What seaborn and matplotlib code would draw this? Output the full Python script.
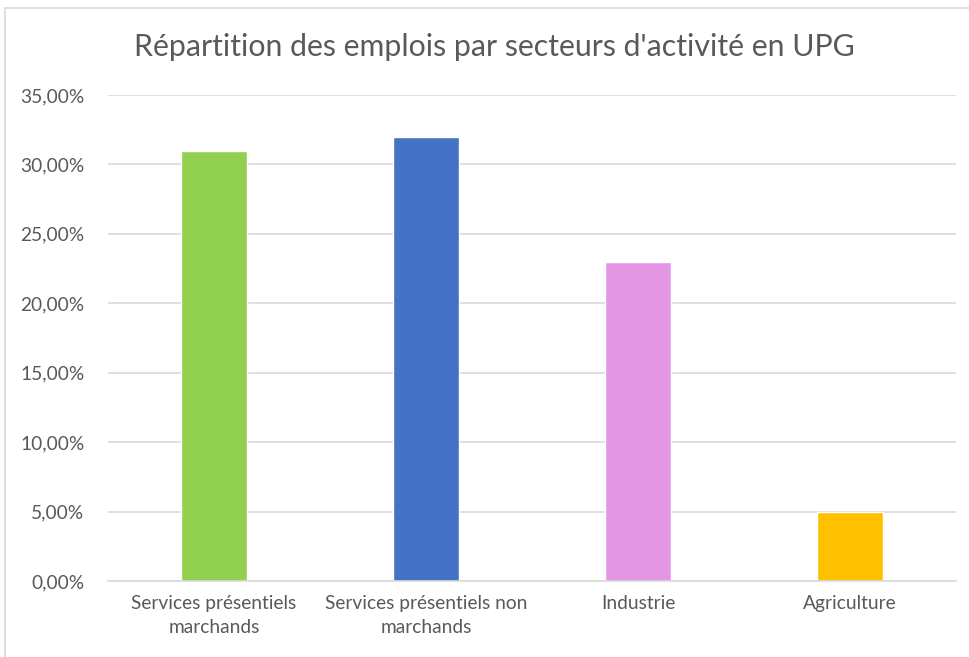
import numpy as np
import pandas as pd
import seaborn as sns
import matplotlib.pyplot as plt
from matplotlib.patches import Rectangle
from matplotlib.ticker import FuncFormatter

# données
secteurs = ["Services présentiels\nmarchands", "Services présentiels non\nmarchands", "Industrie", "Agriculture"]
parts = [0.31, 0.32, 0.23, 0.05]
couleurs = ["#92D050", "#4472C4", "#E396E3", "#FFC000"]

df = pd.DataFrame({"Secteur": secteurs, "Part": parts})

sns.set_style("white")
plt.rcParams['font.family'] = ['Lato', 'DejaVu Sans']

fig = plt.figure(figsize=(9.69, 6.57), dpi=100)
ax = fig.add_axes([0.1115, 0.1157, 0.875, 0.7397])

sns.barplot(data=df, x="Secteur", y="Part", hue="Secteur", palette=couleurs,
            width=0.31, legend=False, ax=ax, saturation=1)

ax.set_ylim(0, 0.35)
ax.set_yticks(np.arange(0, 0.351, 0.05))
ax.yaxis.set_major_formatter(FuncFormatter(lambda v, p: f"{v*100:.2f}%".replace(".", ",")))
ax.grid(axis="y", color="#D9D9D9", linewidth=1.2)
ax.set_axisbelow(True)
for s in ["top", "right", "left"]:
    ax.spines[s].set_visible(False)
ax.spines["bottom"].set_color("#D9D9D9")
ax.spines["bottom"].set_linewidth(1.2)
ax.set_xlabel("")
ax.set_ylabel("")
ax.tick_params(axis="both", colors="#595959", labelsize=13.8, length=0)
ax.tick_params(axis="y", pad=17)
ax.tick_params(axis="x", pad=10)
for lab in ax.get_xticklabels():
    lab.set_linespacing(1.5)

fig.text(0.51, 0.928, "Répartition des emplois par secteurs d'activité en UPG",
         ha="center", va="center", fontsize=21.8, color="#595959")

# cadre du graphique
fig.patches.append(Rectangle((5/969, -0.1), 1.2, (657 - 8) / 657 + 0.1,
                             transform=fig.transFigure, fill=False,
                             edgecolor="#D9D9D9", linewidth=1.2))

plt.savefig("out.png", dpi=100)
